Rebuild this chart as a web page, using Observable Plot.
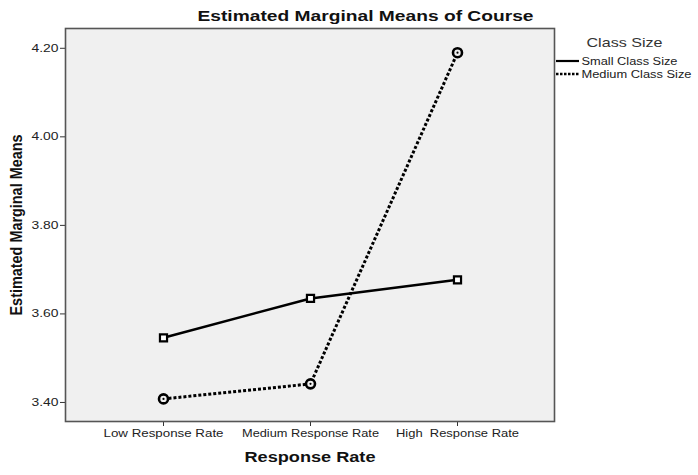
<!DOCTYPE html>
<html>
<head>
<meta charset="utf-8">
<script src="https://cdn.jsdelivr.net/npm/d3@7"></script>
<script src="https://cdn.jsdelivr.net/npm/@observablehq/plot@0.6"></script>
<style>
  html, body { margin: 0; padding: 0; background: #fff; }
  svg { display: block; }
  svg text { white-space: pre; }
</style>
</head>
<body>
<div id="chart"></div>
<script>
const categories = ["Low Response Rate", "Medium Response Rate", "High  Response Rate"];
const seriesNames = ["Small Class Size", "Medium Class Size"];
const smallValues = [3.546, 3.635, 3.677];
const mediumValues = [3.408, 3.442, 4.190];
const yTicks = [3.40, 3.60, 3.80, 4.00, 4.20];
const titleText = "Estimated Marginal Means of Course";
const xLabel = "Response Rate";
const yLabel = "Estimated Marginal Means";
const legendTitle = "Class Size";

const small = categories.map((c, i) => ({cat: c, v: smallValues[i], s: seriesNames[0]}));
const medium = categories.map((c, i) => ({cat: c, v: mediumValues[i], s: seriesNames[1]}));

const W = 698, H = 475;
const mL = 65, mR = 144, mT = 28, mB = 54;
const font = "Arial, 'Liberation Sans', sans-serif";

const chart = Plot.plot({
  width: W,
  height: H,
  marginLeft: mL,
  marginRight: mR,
  marginTop: mT,
  marginBottom: mB,
  style: {fontFamily: font, fontSize: "11px", color: "#222", background: "#fff", overflow: "visible"},
  x: {type: "point", domain: categories, padding: 0.66, label: null},
  y: {domain: [3.357, 4.2447], label: null},
  marks: [
    Plot.frame({fill: "#f0f0f0"}),
    Plot.axisX({tickSize: 5, tickPadding: 3, fontSize: 11, fill: "#222", stroke: "#333", label: null}),
    Plot.axisY({ticks: yTicks, tickFormat: d3.format(".2f"), tickSize: 5, tickPadding: 2, fontSize: 11, fill: "#222", stroke: "#333", label: null}),
    Plot.line(small, {x: "cat", y: "v", stroke: "#000", strokeWidth: 2.5}),
    Plot.line(medium, {x: "cat", y: "v", stroke: "#000", strokeWidth: 3, strokeDasharray: "3,2", strokeLinecap: "butt"}),
    Plot.dot(small, {x: "cat", y: "v", symbol: "square", r: 4, fill: "#fff", stroke: "#000", strokeWidth: 2.2}),
    Plot.dot(medium, {x: "cat", y: "v", symbol: "circle", r: 4.5, fill: "#f0f0f0", stroke: "#000", strokeWidth: 2.6}),
    Plot.dot(medium, {x: "cat", y: "v", symbol: "circle", r: 1.1, fill: "#000"}),
    Plot.frame({stroke: "#555", strokeWidth: 1.6}),
    Plot.text([titleText], {frameAnchor: "top", dx: 55.5, dy: -12, lineAnchor: "middle", fontSize: 15, fontWeight: "bold", fill: "#111"}),
    Plot.text([xLabel], {frameAnchor: "bottom", dy: 36, lineAnchor: "middle", fontSize: 14, fontWeight: "bold", fill: "#111"}),
    Plot.text([yLabel], {frameAnchor: "left", dx: -49, rotate: -90, textAnchor: "middle", lineAnchor: "middle", fontSize: 17, fontWeight: "bold", fill: "#111"}),
    Plot.text([legendTitle], {frameAnchor: "top-right", dx: 70, dy: 14, lineAnchor: "middle", textAnchor: "middle", fontSize: 13, fill: "#333"}),
    Plot.text([seriesNames[0]], {frameAnchor: "top-right", dx: 27, dy: 33, lineAnchor: "middle", textAnchor: "start", fontSize: 10, fill: "#222"}),
    Plot.text([seriesNames[1]], {frameAnchor: "top-right", dx: 27, dy: 46, lineAnchor: "middle", textAnchor: "start", fontSize: 10, fill: "#222"})
  ]
});

document.getElementById("chart").appendChild(chart);

// The reference chart is horizontally stretched: widen texts to their measured widths.
const targetWidths = new Map([
  [titleText, 336],
  [xLabel, 131],
  [yLabel, 181],
  ["Low Response Rate", 120],
  ["Medium Response Rate", 137],
  ["High  Response Rate", 123],
  ["3.40", 27], ["3.60", 27], ["3.80", 27], ["4.00", 27], ["4.20", 27],
  [legendTitle, 76],
  [seriesNames[0], 96],
  [seriesNames[1], 110]
]);
const svg = d3.select(chart);
svg.selectAll("text").each(function() {
  const t = this.textContent;
  if (targetWidths.has(t)) {
    d3.select(this).attr("textLength", targetWidths.get(t)).attr("lengthAdjust", "spacingAndGlyphs");
  }
});

// legend line samples (drawn beside the legend labels)
const frameRight = W - mR;
const lg = svg.append("g");
seriesNames.forEach((s, i) => {
  const y = mT + 33 + i * 13;
  lg.append("line")
    .attr("x1", frameRight + 2).attr("x2", frameRight + 25)
    .attr("y1", y).attr("y2", y)
    .attr("stroke", "#000")
    .attr("stroke-width", i === 0 ? 2.2 : 2.5)
    .attr("stroke-dasharray", i === 0 ? null : "2.5,1.5");
});
</script>
</body>
</html>
